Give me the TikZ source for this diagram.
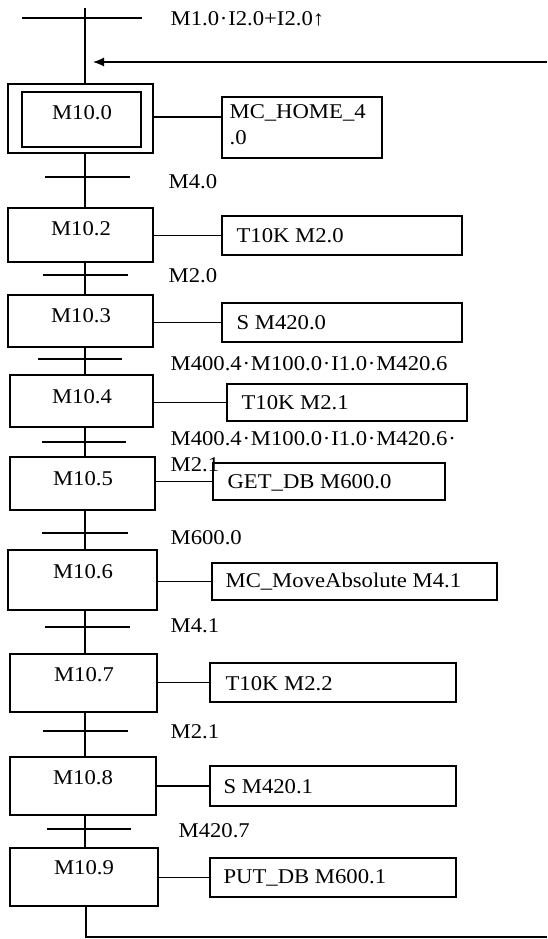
\documentclass[tikz,border=0pt]{standalone}
\usepackage{fontspec}
\setmainfont[FakeStretch=1.08]{Liberation Serif}
\usetikzlibrary{arrows.meta,fit}
\newcommand\md{\kern0.8pt·\kern0.8pt}
\begin{document}
\begin{tikzpicture}[x=1pt,y=-1pt,line width=1.2pt,
  every node/.style={font=\fontsize{21}{25}\selectfont},
  stp/.style={draw,inner sep=0pt},
  act/.style={draw,inner sep=0pt},
  stxt/.style={inner sep=0pt},
  atxt/.style={anchor=west,inner sep=0pt},
  lbl/.style={anchor=west,inner sep=0pt},
  bar/.style={line width=1.2pt}]
\useasboundingbox (0,0) rectangle (547,939);
\coordinate (v) at (85,0);
% top
\coordinate (top) at (85,8);
\draw[bar] (22,18) -- (142,18);
\node[lbl] (l1) at (170,19) {M1.0\md I2.0+I2.0↑};
\coordinate (arrS) at (547,62);
\coordinate (arrE) at (93,62);
\draw[-{Latex[length=11pt,width=9pt]}] (arrS) -- (arrE);
% step 0
\node[stp,fit={(8,84)(153,153)}] (s0) {};
\node[stp,fit={(22,92)(141,147)}] (s0i) {};
\node[stxt] (s0t) at (82,113) {M10.0};
\node[act,fit={(222,97)(382,158)}] (a0) {};
\node[atxt] (a0t) at (229,113) {MC\_HOME\_4};
\node[atxt] (a0u) at (229,138) {.0};
\coordinate (c0) at (0,117);
\draw (top) -- (s0.north -| top);
\draw (s0.east |- c0) -- (a0.west |- c0);
% step 2
\node[stp,fit={(8,208)(153,262)}] (s2) {};
\node[stxt] (s2t) at (81,229) {M10.2};
\node[act,fit={(222,216)(462,255)}] (a2) {};
\node[atxt] (a2t) at (236,236) {T10K M2.0};
\draw (s0.south -| v) -- (s2.north -| v);
\draw[bar] (45,177) -- (130,177);
\node[lbl] (l2) at (168,182) {M4.0};
\draw (s2.east |- a2.west) -- (a2.west);
% step 3
\node[stp,fit={(8,295)(153,347)}] (s3) {};
\node[stxt] (s3t) at (81,316) {M10.3};
\node[act,fit={(222,303)(462,342)}] (a3) {};
\node[atxt] (a3t) at (236,323) {S M420.0};
\draw (s2.south -| v) -- (s3.north -| v);
\draw[bar] (43,275) -- (128,275);
\node[lbl] (l3) at (168,276) {M2.0};
\draw (s3.east |- a3.west) -- (a3.west);
% step 4
\node[stp,fit={(10,375)(153,427)}] (s4) {};
\node[stxt] (s4t) at (82,397) {M10.4};
\node[act,fit={(227,384)(467,421)}] (a4) {};
\node[atxt] (a4t) at (241,403) {T10K M2.1};
\draw (s3.south -| v) -- (s4.north -| v);
\draw[bar] (38,359) -- (122,359);
\node[lbl] (l4) at (170,364) {M400.4\md M100.0\md I1.0\md M420.6};
\draw (s4.east |- a4.west) -- (a4.west);
% step 5
\node[stp,fit={(10,457)(155,510)}] (s5) {};
\node[stxt] (s5t) at (83,479) {M10.5};
\node[act,fit={(213,463)(445,500)}] (a5) {};
\node[atxt] (a5t) at (227,483) {GET\_DB M600.0};
\draw (s4.south -| v) -- (s5.north -| v);
\draw[bar] (42,442) -- (126,442);
\node[lbl] (l5) at (170,439) {M400.4\md M100.0\md I1.0\md M420.6\md};
\node[lbl] (l5b) at (170,465) {M2.1};
\draw (s5.east |- a5.west) -- (a5.west);
% step 6
\node[stp,fit={(8,550)(157,610)}] (s6) {};
\node[stxt] (s6t) at (83,572) {M10.6};
\node[act,fit={(212,563)(497,600)}] (a6) {};
\node[atxt] (a6t) at (225,582) {MC\_MoveAbsolute M4.1};
\draw (s5.south -| v) -- (s6.north -| v);
\draw[bar] (42,533) -- (128,533);
\node[lbl] (l6) at (170,538) {M600.0};
\draw (s6.east |- a6.west) -- (a6.west);
% step 7
\node[stp,fit={(10,654)(157,712)}] (s7) {};
\node[stxt] (s7t) at (84,675) {M10.7};
\node[act,fit={(210,663)(456,702)}] (a7) {};
\node[atxt] (a7t) at (225,684) {T10K M2.2};
\draw (s6.south -| v) -- (s7.north -| v);
\draw[bar] (45,627) -- (130,627);
\node[lbl] (l7) at (170,626) {M4.1};
\draw (s7.east |- a7.west) -- (a7.west);
% step 8
\node[stp,fit={(10,757)(156,815)}] (s8) {};
\node[stxt] (s8t) at (83,778) {M10.8};
\node[act,fit={(210,766)(456,806)}] (a8) {};
\node[atxt] (a8t) at (223,787) {S M420.1};
\draw (s7.south -| v) -- (s8.north -| v);
\draw[bar] (43,731) -- (128,731);
\node[lbl] (l8) at (170,732) {M2.1};
\draw (s8.east |- a8.west) -- (a8.west);
% step 9
\node[stp,fit={(10,848)(158,906)}] (s9) {};
\node[stxt] (s9t) at (84,868) {M10.9};
\node[act,fit={(210,858)(456,897)}] (a9) {};
\node[atxt] (a9t) at (223,878) {PUT\_DB M600.1};
\draw (s8.south -| v) -- (s9.north -| v);
\draw[bar] (47,829) -- (131,829);
\node[lbl] (l9) at (178,831) {M420.7};
\draw (s9.east |- a9.west) -- (a9.west);
% return
\coordinate (b1) at (86,937);
\coordinate (b2) at (547,937);
\draw (s9.south -| b1) -- (b1) -- (b2);
\end{tikzpicture}
\end{document}
